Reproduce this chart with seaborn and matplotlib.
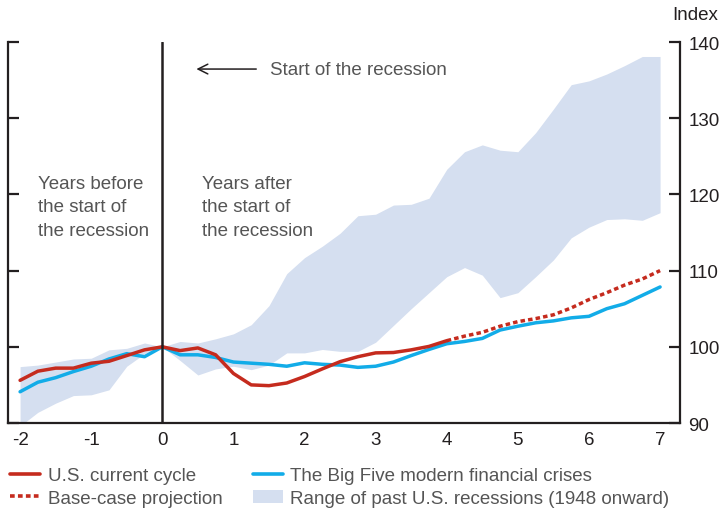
import matplotlib
matplotlib.use("Agg")
import matplotlib.pyplot as plt
from matplotlib.lines import Line2D
from matplotlib.patches import Patch
import numpy as np
import pandas as pd
import seaborn as sns

sns.set_style("white")
plt.rcParams["font.family"] = ["Liberation Sans", "DejaVu Sans"]
plt.rcParams["axes.unicode_minus"] = False

# quarters from two years before to seven years after the start of the recession
years = [-2.0, -1.75, -1.5, -1.25, -1.0, -0.75, -0.5, -0.25, 0.0,
         0.25, 0.5, 0.75, 1.0, 1.25, 1.5, 1.75, 2.0, 2.25, 2.5, 2.75,
         3.0, 3.25, 3.5, 3.75, 4.0, 4.25, 4.5, 4.75, 5.0, 5.25, 5.5,
         5.75, 6.0, 6.25, 6.5, 6.75, 7.0]

current_years = years[:25]
current_cycle = [95.6, 96.8, 97.2, 97.2, 97.85, 98.1, 98.85, 99.6, 100.0,
                 99.5, 99.85, 98.95, 96.5, 95.0, 94.9, 95.25, 96.1, 97.1,
                 98.05, 98.7, 99.2, 99.25, 99.6, 100.05, 100.8]

projection_years = years[24:]
projection = [100.8, 101.4, 101.9, 102.7, 103.3, 103.7, 104.2, 105.1,
              106.2, 107.1, 108.1, 108.9, 110.0]

big_five = [94.1, 95.35, 95.95, 96.75, 97.45, 98.4, 99.1, 98.7, 100.0,
            98.95, 98.95, 98.6, 98.0, 97.85, 97.7, 97.45, 97.9, 97.7,
            97.6, 97.3, 97.45, 98.0, 98.85, 99.65, 100.4, 100.7, 101.1,
            102.2, 102.7, 103.15, 103.4, 103.8, 104.0, 105.0, 105.65,
            106.75, 107.85]

range_low = [89.6, 91.4, 92.6, 93.6, 93.7, 94.35, 97.45, 99.1, 100.0,
             98.2, 96.3, 97.1, 97.45, 97.0, 97.6, 99.2, 99.2, 99.65,
             99.4, 99.4, 100.6, 102.8, 105.0, 107.1, 109.2, 110.4, 109.4,
             106.45, 107.1, 109.2, 111.4, 114.3, 115.7, 116.7, 116.8,
             116.6, 117.6]
range_high = [97.4, 97.6, 98.0, 98.4, 98.5, 99.6, 99.8, 100.5, 100.0,
              100.7, 100.5, 101.05, 101.7, 102.9, 105.4, 109.6, 111.7,
              113.2, 114.9, 117.2, 117.4, 118.6, 118.7, 119.5, 123.3,
              125.6, 126.5, 125.8, 125.6, 128.1, 131.2, 134.4, 134.9,
              135.8, 136.9, 138.1, 138.1]

RED = "#C52B1E"
BLUE = "#12ACE8"
BAND = "#D5DFF0"
INK = "#231F20"
GREY = "#555555"
FS = 13.5

fig = plt.figure(figsize=(7.23, 5.10), dpi=100)
ax = fig.add_axes([8 / 723, 86 / 510, 672 / 723, 381 / 510])

ax.fill_between(years, range_low, range_high, color=BAND, lw=0, zorder=1)

df_big = pd.DataFrame({"x": years, "y": big_five})
df_cur = pd.DataFrame({"x": current_years, "y": current_cycle})
df_proj = pd.DataFrame({"x": projection_years, "y": projection})
sns.lineplot(data=df_big, x="x", y="y", color=BLUE, lw=2.5, ax=ax, zorder=3)
sns.lineplot(data=df_cur, x="x", y="y", color=RED, lw=2.5, ax=ax, zorder=4)
sns.lineplot(data=df_proj, x="x", y="y", color=RED, lw=2.5, ax=ax, zorder=4,
             dashes=False, linestyle=(0, (1.3, 0.9)))

ax.axvline(0, color=INK, lw=1.8, zorder=5)

ax.set_xlim(-2.17, 7.28)
ax.set_ylim(90, 140)
ax.set_xticks(range(-2, 8))
ax.set_yticks(range(90, 141, 10))
ax.set_xlabel("")
ax.set_ylabel("")

ax.spines["top"].set_visible(False)
for s in ["left", "right", "bottom"]:
    ax.spines[s].set_color(INK)
    ax.spines[s].set_linewidth(1.6)
ax.tick_params(axis="both", direction="in", length=8, width=1.6, color=INK,
               labelsize=FS, labelcolor=INK)
ax.tick_params(axis="y", left=True, right=True, labelleft=False,
               labelright=True, pad=6)
ax.tick_params(axis="x", pad=6)

ax.annotate("", xy=(0.44, 136.45), xytext=(1.36, 136.45),
            arrowprops=dict(arrowstyle="->,head_length=0.7,head_width=0.35",
                            color=INK, lw=1.1))
ax.text(1.52, 136.45, "Start of the recession", fontsize=FS, color=GREY,
        va="center", ha="left")
ax.text(-1.75, 122.6, "Years before\nthe start of\nthe recession",
        fontsize=FS, color=GREY, va="top", ha="left", linespacing=1.5)
ax.text(0.56, 122.6, "Years after\nthe start of\nthe recession",
        fontsize=FS, color=GREY, va="top", ha="left", linespacing=1.5)

fig.text(0.993, 0.97, "Index", fontsize=FS, color=INK, ha="right",
         va="center")

handles = [
    Line2D([], [], color=RED, lw=2.6),
    Line2D([], [], color=RED, lw=2.6, linestyle=(0, (1.3, 0.9))),
    Line2D([], [], color=BLUE, lw=2.6),
    Patch(facecolor=BAND, edgecolor="none"),
]
labels = [
    "U.S. current cycle",
    "Base-case projection",
    "The Big Five modern financial crises",
    "Range of past U.S. recessions (1948 onward)",
]
fig.legend(handles, labels, ncol=2, loc="upper left",
           bbox_to_anchor=(10 / 723, 1 - 468 / 510), frameon=False,
           fontsize=FS, labelcolor=GREY, handlelength=1.6,
           handletextpad=0.4, columnspacing=1.62, labelspacing=0.3,
           borderpad=0, borderaxespad=0)

fig.savefig("out.png", dpi=100)
